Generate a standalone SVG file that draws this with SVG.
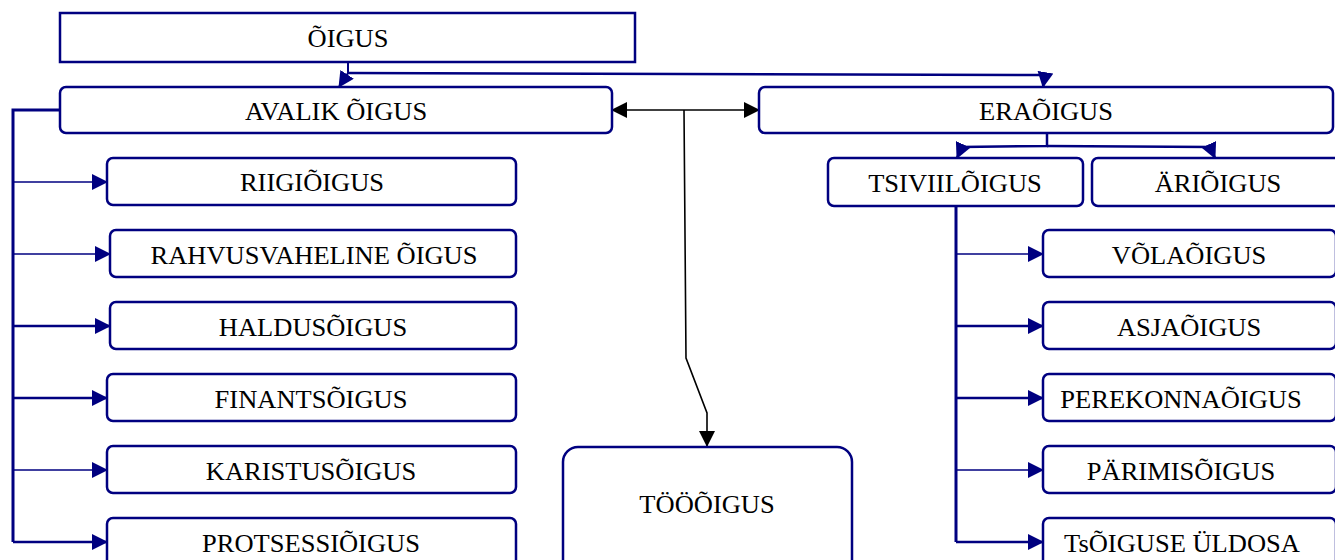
<svg xmlns="http://www.w3.org/2000/svg" width="1335" height="560" viewBox="0 0 1335 560">
  <style>
    .box { fill: #ffffff; stroke: #000080; stroke-width: 2.5; }
    .lbl { font-family: "Liberation Serif", "Times New Roman", serif; font-size: 25px; fill: #000000; text-anchor: middle; }
    .bus { fill: none; stroke: #000080; stroke-width: 3; }
    .br { fill: none; stroke: #000080; stroke-width: 1.6; }
    .brw { fill: none; stroke: #000080; stroke-width: 2.5; }
    .blk { fill: none; stroke: #000000; stroke-width: 1.6; }
  </style>
  <defs>
    <marker id="navyArrow" markerUnits="userSpaceOnUse" markerWidth="16" markerHeight="16" viewBox="0 0 16 16" refX="15" refY="8" orient="auto">
      <path d="M0,0 L16,8 L0,16 Z" fill="#000080"/>
    </marker>
    <marker id="blackArrow" markerUnits="userSpaceOnUse" markerWidth="16" markerHeight="16" viewBox="0 0 16 16" refX="15" refY="8" orient="auto-start-reverse">
      <path d="M0,0 L16,8 L0,16 Z" fill="#000000"/>
    </marker>
  </defs>

  <rect width="1335" height="560" fill="#ffffff"/>

  <!-- connectors -->
  <g id="connectors">
    <!-- ÕIGUS to the two main branches -->
    <path class="br" d="M348,62 V73 L339,87" marker-end="url(#navyArrow)" style="stroke-width:2"/>
    <path class="br" d="M348,73 L1045,75 L1043,87" marker-end="url(#navyArrow)" style="stroke-width:2.5"/>
    <!-- ERAÕIGUS to its two parts -->
    <path class="br" d="M1047,133 V146 L962,147 L957,158" marker-end="url(#navyArrow)" style="stroke-width:2.5"/>
    <path class="br" d="M1047,146 L1210,147 L1215,158" marker-end="url(#navyArrow)" style="stroke-width:2.5"/>

    <!-- public law bus -->
    <path class="bus" d="M60,110 H13 V542"/>
    <path class="br" d="M13,182 H107" marker-end="url(#navyArrow)"/>
    <path class="br" d="M13,254 H110" marker-end="url(#navyArrow)"/>
    <path class="brw" d="M13,326 H110" marker-end="url(#navyArrow)"/>
    <path class="brw" d="M13,398 H107" marker-end="url(#navyArrow)"/>
    <path class="br" d="M13,470 H107" marker-end="url(#navyArrow)"/>
    <path class="brw" d="M13,542 H107" marker-end="url(#navyArrow)"/>

    <!-- civil law bus -->
    <path class="bus" d="M956,206 V542"/>
    <path class="br" d="M956,254 H1043" marker-end="url(#navyArrow)"/>
    <path class="brw" d="M956,326 H1043" marker-end="url(#navyArrow)"/>
    <path class="brw" d="M956,398 H1043" marker-end="url(#navyArrow)"/>
    <path class="br" d="M956,470 H1043" marker-end="url(#navyArrow)"/>
    <path class="brw" d="M956,542 H1043" marker-end="url(#navyArrow)"/>

    <!-- labour law between public and private -->
    <path class="blk" d="M612,110 H759" marker-start="url(#blackArrow)" marker-end="url(#blackArrow)"/>
    <path class="blk" d="M684,110 L686,358 L707,413 L707,446" marker-end="url(#blackArrow)"/>
  </g>

  <g id="oigus">
    <rect class="box" x="60" y="13" width="575" height="49"/>
    <text class="lbl" transform="translate(348 47) scale(1.06 1)">ÕIGUS</text>
  </g>
  <g id="avalik">
    <rect class="box" x="60" y="87" width="552" height="46" rx="6"/>
    <text class="lbl" transform="translate(336 120) scale(1.06 1)">AVALIK ÕIGUS</text>
  </g>
  <g id="era">
    <rect class="box" x="759" y="87" width="574" height="46" rx="6"/>
    <text class="lbl" transform="translate(1046 120) scale(1.06 1)">ERAÕIGUS</text>
  </g>
  <g id="tsiviil">
    <rect class="box" x="828" y="158" width="255" height="48" rx="6"/>
    <text class="lbl" transform="translate(955 192) scale(1.06 1)">TSIVIILÕIGUS</text>
  </g>
  <g id="ari">
    <rect class="box" x="1092" y="158" width="254" height="48" rx="6"/>
    <text class="lbl" transform="translate(1218 192) scale(1.06 1)">ÄRIÕIGUS</text>
  </g>

  <g id="riigi">
    <rect class="box" x="107" y="158" width="409" height="47" rx="6"/>
    <text class="lbl" transform="translate(312 191) scale(1.06 1)">RIIGIÕIGUS</text>
  </g>
  <g id="rahvusvaheline">
    <rect class="box" x="110" y="230" width="406" height="47" rx="6"/>
    <text class="lbl" transform="translate(314 264) scale(1.06 1)">RAHVUSVAHELINE ÕIGUS</text>
  </g>
  <g id="haldus">
    <rect class="box" x="110" y="302" width="406" height="47" rx="6"/>
    <text class="lbl" transform="translate(313 336) scale(1.06 1)">HALDUSÕIGUS</text>
  </g>
  <g id="finants">
    <rect class="box" x="107" y="374" width="409" height="47" rx="6"/>
    <text class="lbl" transform="translate(311 408) scale(1.06 1)">FINANTSÕIGUS</text>
  </g>
  <g id="karistus">
    <rect class="box" x="107" y="446" width="409" height="47" rx="6"/>
    <text class="lbl" transform="translate(311 480) scale(1.06 1)">KARISTUSÕIGUS</text>
  </g>
  <g id="protsessi">
    <rect class="box" x="107" y="518" width="409" height="60" rx="6"/>
    <text class="lbl" transform="translate(311 552) scale(1.06 1)">PROTSESSIÕIGUS</text>
  </g>

  <g id="too">
    <rect class="box" x="563" y="447" width="289" height="130" rx="15"/>
    <text class="lbl" transform="translate(707 513) scale(1.06 1)">TÖÖÕIGUS</text>
  </g>

  <g id="vola">
    <rect class="box" x="1043" y="230" width="293" height="47" rx="6"/>
    <text class="lbl" transform="translate(1189 264) scale(1.06 1)">VÕLAÕIGUS</text>
  </g>
  <g id="asja">
    <rect class="box" x="1043" y="302" width="293" height="47" rx="6"/>
    <text class="lbl" transform="translate(1189 336) scale(1.06 1)">ASJAÕIGUS</text>
  </g>
  <g id="perekonna">
    <rect class="box" x="1043" y="374" width="293" height="47" rx="6"/>
    <text class="lbl" transform="translate(1181 408) scale(1.06 1)">PEREKONNAÕIGUS</text>
  </g>
  <g id="parimis">
    <rect class="box" x="1043" y="446" width="293" height="47" rx="6"/>
    <text class="lbl" transform="translate(1181 480) scale(1.06 1)">PÄRIMISÕIGUS</text>
  </g>
  <g id="tsoiguse">
    <rect class="box" x="1043" y="518" width="293" height="60" rx="6"/>
    <text class="lbl" transform="translate(1182 552) scale(1.06 1)">TsÕIGUSE ÜLDOSA</text>
  </g>
</svg>
